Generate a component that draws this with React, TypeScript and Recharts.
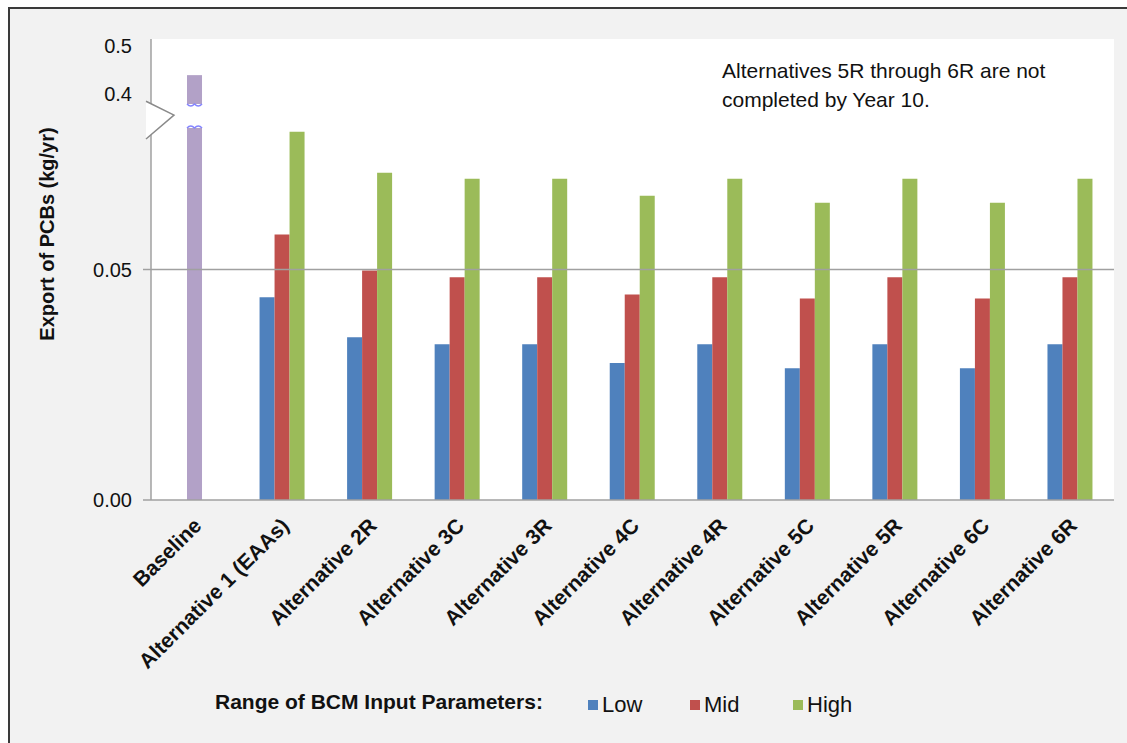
import { BarChart, Bar, XAxis, YAxis, CartesianGrid, ReferenceLine } from 'recharts'

const categories = [
  'Baseline',
  'Alternative 1 (EAAs)',
  'Alternative 2R',
  'Alternative 3C',
  'Alternative 3R',
  'Alternative 4C',
  'Alternative 4R',
  'Alternative 5C',
  'Alternative 5R',
  'Alternative 6C',
  'Alternative 6R',
]
const baselineExport = [0.44, 0, 0, 0, 0, 0, 0, 0, 0, 0, 0]
const lowExport = [null, 0.044, 0.0353, 0.0338, 0.0338, 0.0297, 0.0338, 0.0286, 0.0338, 0.0286, 0.0338]
const midExport = [0, 0.0576, 0.0498, 0.0483, 0.0483, 0.0446, 0.0483, 0.0437, 0.0483, 0.0437, 0.0483]
const highExport = [null, 0.0799, 0.071, 0.0697, 0.0697, 0.066, 0.0697, 0.0645, 0.0697, 0.0645, 0.0697]

const yTickValues = [0, 0.05, 0.4, 0.5]
const yTickLabels = ['0.00', '0.05', '0.4', '0.5']

const series = [
  { key: 'low', name: 'Low', color: '#4F81BD' },
  { key: 'mid', name: 'Mid', color: '#C0504D' },
  { key: 'high', name: 'High', color: '#9BBB59' },
]
const BASELINE_COLOR = '#B2A1C7'

const FONT = '"Liberation Sans", Arial, sans-serif'
const W = 1127
const H = 743
const PLOT_TOP = 39
const PLOT_BOTTOM = 500
const AXIS_X = 151
const Y_TOP = 0.1

// broken axis: values from 0.4 up are squeezed into the top strip
const toDisplay = (v: number | null) => {
  if (v == null) return null
  return v >= 0.3 ? 0.088 + (v - 0.4) * 0.104 : v
}
const px = (d: number) => PLOT_BOTTOM - (d / Y_TOP) * (PLOT_BOTTOM - PLOT_TOP)
const BAR_GAP = [0.0807, 0.0859]
const AXIS_GAP = [0.0783, 0.0835, 0.0865]

const data = categories.map((name, i) => ({
  name,
  low: toDisplay(lowExport[i]),
  mid: toDisplay(midExport[i]),
  high: toDisplay(highExport[i]),
  baseline: toDisplay(baselineExport[i]),
}))

const yTicks = yTickValues.map((v) => toDisplay(v) as number)

function YTick(props: any) {
  const { x, y, payload } = props
  const idx = yTicks.findIndex((t) => Math.abs(t - payload.value) < 1e-6)
  const label = idx >= 0 ? yTickLabels[idx] : ''
  const showLine = idx >= 0 && yTickValues[idx] < 0.1
  return (
    <g>
      {showLine && <line x1={x + 12} x2={x + 20} y1={y} y2={y} stroke="#A0A0A0" strokeWidth={1.5} />}
      <text x={x + 1} y={y} dy={7} textAnchor="end" fontSize={20} fontFamily={FONT} fill="#111">
        {label}
      </text>
    </g>
  )
}

function XTick(props: any) {
  const { x, y, payload } = props
  const tx = x + 8
  const ty = y + 27
  return (
    <text
      x={tx}
      y={ty}
      transform={`rotate(-45 ${tx} ${ty})`}
      textAnchor="end"
      fontSize={21}
      fontWeight="bold"
      fontFamily={FONT}
      fill="#111"
    >
      {payload.value}
    </text>
  )
}

function BaselineShape(props: any) {
  const { x, y, width, height } = props
  if (!height || height < 1) return null
  const gt = px(BAR_GAP[1])
  const gb = px(BAR_GAP[0])
  const w = width
  return (
    <g>
      <rect x={x} y={y} width={w} height={height} fill={BASELINE_COLOR} />
      <rect x={x - 1} y={gt} width={w + 2} height={gb - gt} fill="#fff" />
      <path
        d={`M${x},${gt} Q${x + w / 4},${gt + 4} ${x + w / 2},${gt} Q${x + (3 * w) / 4},${gt + 4} ${x + w},${gt}`}
        fill="none"
        stroke="#8585ff"
        strokeWidth={1.5}
      />
      <path
        d={`M${x},${gb} Q${x + w / 4},${gb - 4} ${x + w / 2},${gb} Q${x + (3 * w) / 4},${gb - 4} ${x + w},${gb}`}
        fill="none"
        stroke="#8585ff"
        strokeWidth={1.5}
      />
    </g>
  )
}

export default function App() {
  const wTop = px(AXIS_GAP[2])
  const wTip = px(AXIS_GAP[1])
  const wBot = px(AXIS_GAP[0])
  return (
    <div style={{ position: 'absolute', left: 0, top: 0, width: W, height: H, background: '#fff', fontFamily: FONT, overflow: 'hidden' }}>
      <div
        style={{
          position: 'absolute',
          left: 8,
          top: 7,
          right: 0,
          bottom: 0,
          background: '#F2F2F2',
          borderTop: '2px solid #3a3a3a',
          borderLeft: '2px solid #3a3a3a',
        }}
      />
      <div style={{ position: 'absolute', left: 0, top: 0 }}>
        <BarChart
          width={W}
          height={H}
          data={data}
          margin={{ top: PLOT_TOP, right: 13, left: 0, bottom: 0 }}
          barCategoryGap="24%"
          barGap={0}
        >
          <CartesianGrid fill="#fff" horizontal={false} vertical={false} />
          <XAxis
            dataKey="name"
            height={H - PLOT_BOTTOM}
            interval={0}
            tickLine={false}
            tickSize={0}
            tickMargin={0}
            axisLine={{ stroke: '#A0A0A0', strokeWidth: 1.5 }}
            tick={<XTick />}
          />
          <XAxis xAxisId="top" dataKey="name" orientation="top" height={0} tick={false} tickLine={false} axisLine={{ stroke: '#262626', strokeWidth: 1.5 }} />
          <YAxis
            width={AXIS_X}
            domain={[0, Y_TOP]}
            ticks={yTicks}
            interval={0}
            allowDataOverflow
            tickLine={false}
            tickSize={8}
            tickMargin={12}
            axisLine={{ stroke: '#A0A0A0', strokeWidth: 1.5 }}
            tick={<YTick />}
            label={{
              content: () => {
                const lx = 54
                const ly = 234
                return (
                  <text
                    x={lx}
                    y={ly}
                    transform={`rotate(-90 ${lx} ${ly})`}
                    textAnchor="middle"
                    fontSize={20}
                    fontWeight="bold"
                    fontFamily={FONT}
                    fill="#111"
                  >
                    Export of PCBs (kg/yr)
                  </text>
                )
              },
            }}
          />
          <YAxis yAxisId="right" orientation="right" width={0} domain={[0, Y_TOP]} tick={false} tickLine={false} axisLine={{ stroke: '#262626', strokeWidth: 1.5 }} />
          <ReferenceLine y={0.05} stroke="#A0A0A0" strokeWidth={1.5} />
          <Bar dataKey="low" name="Low" stackId="a" fill={series[0].color} isAnimationActive={false} />
          <Bar dataKey="mid" name="Mid" stackId="b" fill={series[1].color} isAnimationActive={false} />
          <Bar dataKey="baseline" name="Baseline" stackId="b" fill={BASELINE_COLOR} shape={<BaselineShape />} isAnimationActive={false} />
          <Bar dataKey="high" name="High" stackId="c" fill={series[2].color} isAnimationActive={false} />
        </BarChart>
      </div>
      <svg width={W} height={H} style={{ position: 'absolute', left: 0, top: 0, pointerEvents: 'none' }}>
        <polygon points={`${AXIS_X - 5},${wTop} ${AXIS_X + 23},${wTip} ${AXIS_X - 5},${wBot}`} fill="#fff" />
        <polyline points={`${AXIS_X - 5},${wTop} ${AXIS_X + 23},${wTip} ${AXIS_X - 5},${wBot}`} fill="none" stroke="#8a8a8a" strokeWidth={1.5} />
      </svg>
      <div style={{ position: 'absolute', left: 722, top: 56, fontSize: 21, lineHeight: '29px', color: '#111' }}>
        Alternatives 5R through 6R are not
        <br />
        completed by Year 10.
      </div>
      <div style={{ position: 'absolute', left: 215, top: 690, fontSize: 21, fontWeight: 'bold', color: '#111' }}>
        Range of BCM Input Parameters:
      </div>
      {[588, 690, 793].map((left, i) => (
        <div
          key={series[i].key}
          style={{ position: 'absolute', left, top: 692, display: 'flex', alignItems: 'center', fontSize: 22, color: '#111' }}
        >
          <span style={{ display: 'inline-block', width: 10, height: 10, background: series[i].color, marginRight: 4 }} />
          {series[i].name}
        </div>
      ))}
    </div>
  )
}
